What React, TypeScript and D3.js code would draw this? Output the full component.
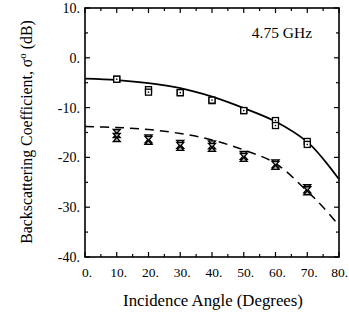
import React from "react";
import * as d3 from "d3";

const xTicks = [0, 10, 20, 30, 40, 50, 60, 70, 80];
const yTicks = [10, 0, -10, -20, -30, -40];

const angles = [10, 20, 30, 40, 50, 60, 70];
const squaresA = [-4.3, -6.4, -7.0, -8.6, -10.6, -12.6, -16.8];
const squaresB = [-4.3, -6.9, -7.0, -8.5, -10.6, -13.6, -17.4];
const hourglassA = [-15.2, -16.3, -17.4, -17.5, -19.6, -21.3, -26.3];
const hourglassB = [-16.0, -16.6, -17.8, -18.0, -20.0, -21.6, -26.7];

const curveAngles = [0, 10, 20, 30, 40, 50, 60, 70, 75, 80];
const solidModel = [-4.2, -4.5, -5.1, -6.1, -7.8, -10.1, -12.8, -16.9, -20.3, -24.4];
const dashedModel = [-13.8, -14.0, -14.4, -15.2, -16.5, -18.5, -21.2, -26.8, -30.0, -33.7];

const W = 349;
const H = 320;
const left = 85;
const right = 339;
const top = 8;
const bottom = 257;

export default function App() {
  const x = d3.scaleLinear().domain([0, 80]).range([left, right]);
  const y = d3.scaleLinear().domain([-40, 10]).range([bottom, top]);
  const line = d3
    .line<number>()
    .x((_, i) => x(curveAngles[i]))
    .curve(d3.curveCatmullRom);
  const solidPath = line.y((v) => y(v))(solidModel) || "";
  const dashedPath = line.y((v) => y(v))(dashedModel) || "";

  const xMinor = d3.range(0, 81, 5);
  const yMinor = d3.range(-40, 11, 5);
  const font = "'Liberation Serif', 'Times New Roman', serif";

  const square = (cx: number, cy: number, k: string) => (
    <g key={k}>
      <rect x={cx - 3} y={cy - 3} width={6} height={6} fill="white" stroke="black" strokeWidth={1.3} />
      <rect x={cx - 0.7} y={cy - 0.7} width={1.4} height={1.4} fill="black" />
    </g>
  );
  const hourglass = (cx: number, cy: number, k: string) => (
    <path
      key={k}
      d={`M${cx - 3.5},${cy - 4}L${cx + 3.5},${cy - 4}L${cx - 3.5},${cy + 4}L${cx + 3.5},${cy + 4}Z`}
      fill="#bbb"
      stroke="black"
      strokeWidth={1.3}
    />
  );

  return (
    <svg width={W} height={H} style={{ position: "absolute", left: 0, top: 0, background: "white" }}>
      <rect x={0} y={0} width={W} height={H} fill="white" />
      {xMinor.map((t) => {
        const len = t % 10 === 0 ? 5 : 3;
        return (
          <g key={"xt" + t} stroke="black" strokeWidth={1.2}>
            <line x1={x(t)} x2={x(t)} y1={bottom} y2={bottom - len} />
            <line x1={x(t)} x2={x(t)} y1={top} y2={top + len} />
          </g>
        );
      })}
      {yMinor.map((t) => {
        const len = t % 10 === 0 ? 5 : 3;
        return (
          <g key={"yt" + t} stroke="black" strokeWidth={1.2}>
            <line x1={left} x2={left + len} y1={y(t)} y2={y(t)} />
            <line x1={right} x2={right - len} y1={y(t)} y2={y(t)} />
          </g>
        );
      })}
      <rect x={left} y={top} width={right - left} height={bottom - top} fill="none" stroke="black" strokeWidth={1.6} />

      <path d={solidPath} fill="none" stroke="black" strokeWidth={1.7} />
      <path d={dashedPath} fill="none" stroke="black" strokeWidth={1.5} strokeDasharray="9,6" />

      {angles.map((a, i) => square(x(a), y(squaresA[i]), "sa" + i))}
      {angles.map((a, i) => square(x(a), y(squaresB[i]), "sb" + i))}
      {angles.map((a, i) => hourglass(x(a), y(hourglassA[i]), "ha" + i))}
      {angles.map((a, i) => hourglass(x(a), y(hourglassB[i]), "hb" + i))}

      {xTicks.map((t, i) => {
        const last = i === xTicks.length - 1;
        return (
          <text
            key={"xl" + t}
            x={last ? W - 1 : x(t) + 2}
            y={277}
            textAnchor={last ? "end" : "middle"}
            fontFamily={font}
            fontSize={13.5}
            fill="black"
          >
            {t + "."}
          </text>
        );
      })}
      {yTicks.map((t) => (
        <text key={"yl" + t} x={80} y={y(t) + 5} textAnchor="end" fontFamily={font} fontSize={14} fill="black">
          {t + "."}
        </text>
      ))}

      <text x={282} y={38} textAnchor="middle" fontFamily={font} fontSize={15.5} fill="black">
        4.75 GHz
      </text>
      <text x={213} y={306} textAnchor="middle" fontFamily={font} fontSize={16.8} fill="black">
        Incidence Angle (Degrees)
      </text>
      <text
        transform={`translate(32,${132}) rotate(-90)`}
        textAnchor="middle"
        fontFamily={font}
        fontSize={15.8}
        fill="black"
      >
        Backscattering Coefficient, σ
        <tspan dy={-6} fontSize={11}>o</tspan>
        <tspan dy={6}> (dB)</tspan>
      </text>
    </svg>
  );
}
